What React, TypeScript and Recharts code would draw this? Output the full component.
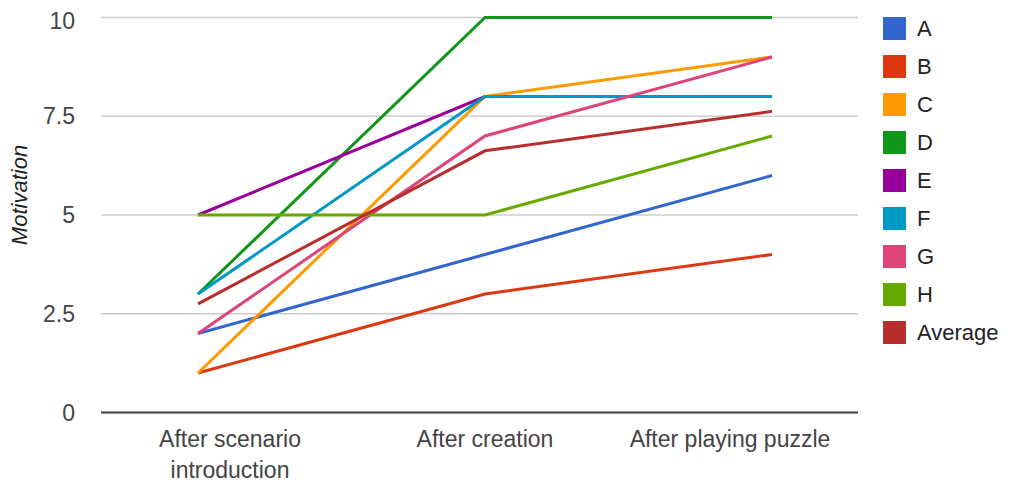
import React from 'react';
import { LineChart, Line, XAxis, YAxis, CartesianGrid } from 'recharts';

const categories = ['After scenario introduction', 'After creation', 'After playing puzzle'];
const tickLines = [['After scenario', 'introduction'], ['After creation'], ['After playing puzzle']];
const yTicks = [0, 2.5, 5, 7.5, 10];

const seriesA = [2, 4, 6];
const seriesB = [1, 3, 4];
const seriesC = [1, 8, 9];
const seriesD = [3, 10, 10];
const seriesE = [5, 8, 8];
const seriesF = [3, 8, 8];
const seriesG = [2, 7, 9];
const seriesH = [5, 5, 7];
const seriesAverage = [2.75, 6.625, 7.625];

const seriesNames = ['A', 'B', 'C', 'D', 'E', 'F', 'G', 'H', 'Average'];
const seriesValues = [seriesA, seriesB, seriesC, seriesD, seriesE, seriesF, seriesG, seriesH, seriesAverage];
const seriesColors = ['#3366cc', '#dc3912', '#ff9900', '#109618', '#990099', '#0099c6', '#dd4477', '#66aa00', '#b82e2e'];

const data = categories.map((c, i) => {
  const row: Record<string, any> = { category: c };
  seriesNames.forEach((n, k) => {
    row[n] = seriesValues[k][i];
  });
  return row;
});

const FONT = '"Liberation Sans", Arial, sans-serif';
const labelShift = [32, 0, -42];

const XTick = (props: any) => {
  const { x, y, index } = props;
  const lines = tickLines[index] || [];
  const cx = x + (labelShift[index] || 0);
  return (
    <text x={cx} y={y + 34} textAnchor="middle" fill="#444" fontSize={23} fontFamily={FONT}>
      {lines.map((l, i) => (
        <tspan key={i} x={cx} dy={i === 0 ? 0 : 31}>
          {l}
        </tspan>
      ))}
    </text>
  );
};

export default function App() {
  return (
    <div style={{ position: 'relative', width: 1008, height: 476, marginLeft: -8, fontFamily: FONT }}>
      <LineChart
        width={1008}
        height={476}
        data={data}
        margin={{ top: 9.5, right: 150, bottom: 11.5, left: 8 }}
      >
        <CartesianGrid vertical={false} stroke="#cccccc" strokeWidth={1.5} />
        <XAxis
          dataKey="category"
          padding={{ left: 97, right: 86 }}
          tickLine={false}
          tickSize={0}
          tickMargin={0}
          axisLine={{ stroke: '#444', strokeWidth: 2 }}
          height={60}
          interval={0}
          tick={<XTick />}
        />
        <YAxis
          domain={[0, 10]}
          ticks={yTicks}
          width={93}
          axisLine={false}
          tickLine={false}
          tickSize={0}
          tickMargin={26}
          tick={{ fill: '#444', fontSize: 23, fontFamily: FONT }}
          tickFormatter={(v: number) => String(v)}
          label={() => (
            <text
              x={19}
              y={187}
              transform="rotate(-90 19 187)"
              textAnchor="middle"
              dominantBaseline="central"
              fontStyle="italic"
              fill="#222"
              fontSize={22}
              fontFamily={FONT}
            >
              Motivation
            </text>
          )}
        />
        {seriesNames.map((n, k) => (
          <Line
            key={n}
            type="linear"
            dataKey={n}
            stroke={seriesColors[k]}
            strokeWidth={3}
            dot={false}
            activeDot={false}
            isAnimationActive={false}
          />
        ))}
      </LineChart>
      <div style={{ position: 'absolute', left: 883, top: 9 }}>
        {seriesNames.map((n, k) => (
          <div key={n} style={{ display: 'flex', alignItems: 'center', height: 23, marginBottom: 15 }}>
            <div style={{ width: 23, height: 23, background: seriesColors[k], marginRight: 11 }} />
            <span style={{ fontSize: 22, color: '#222', lineHeight: '23px' }}>{n}</span>
          </div>
        ))}
      </div>
    </div>
  );
}
